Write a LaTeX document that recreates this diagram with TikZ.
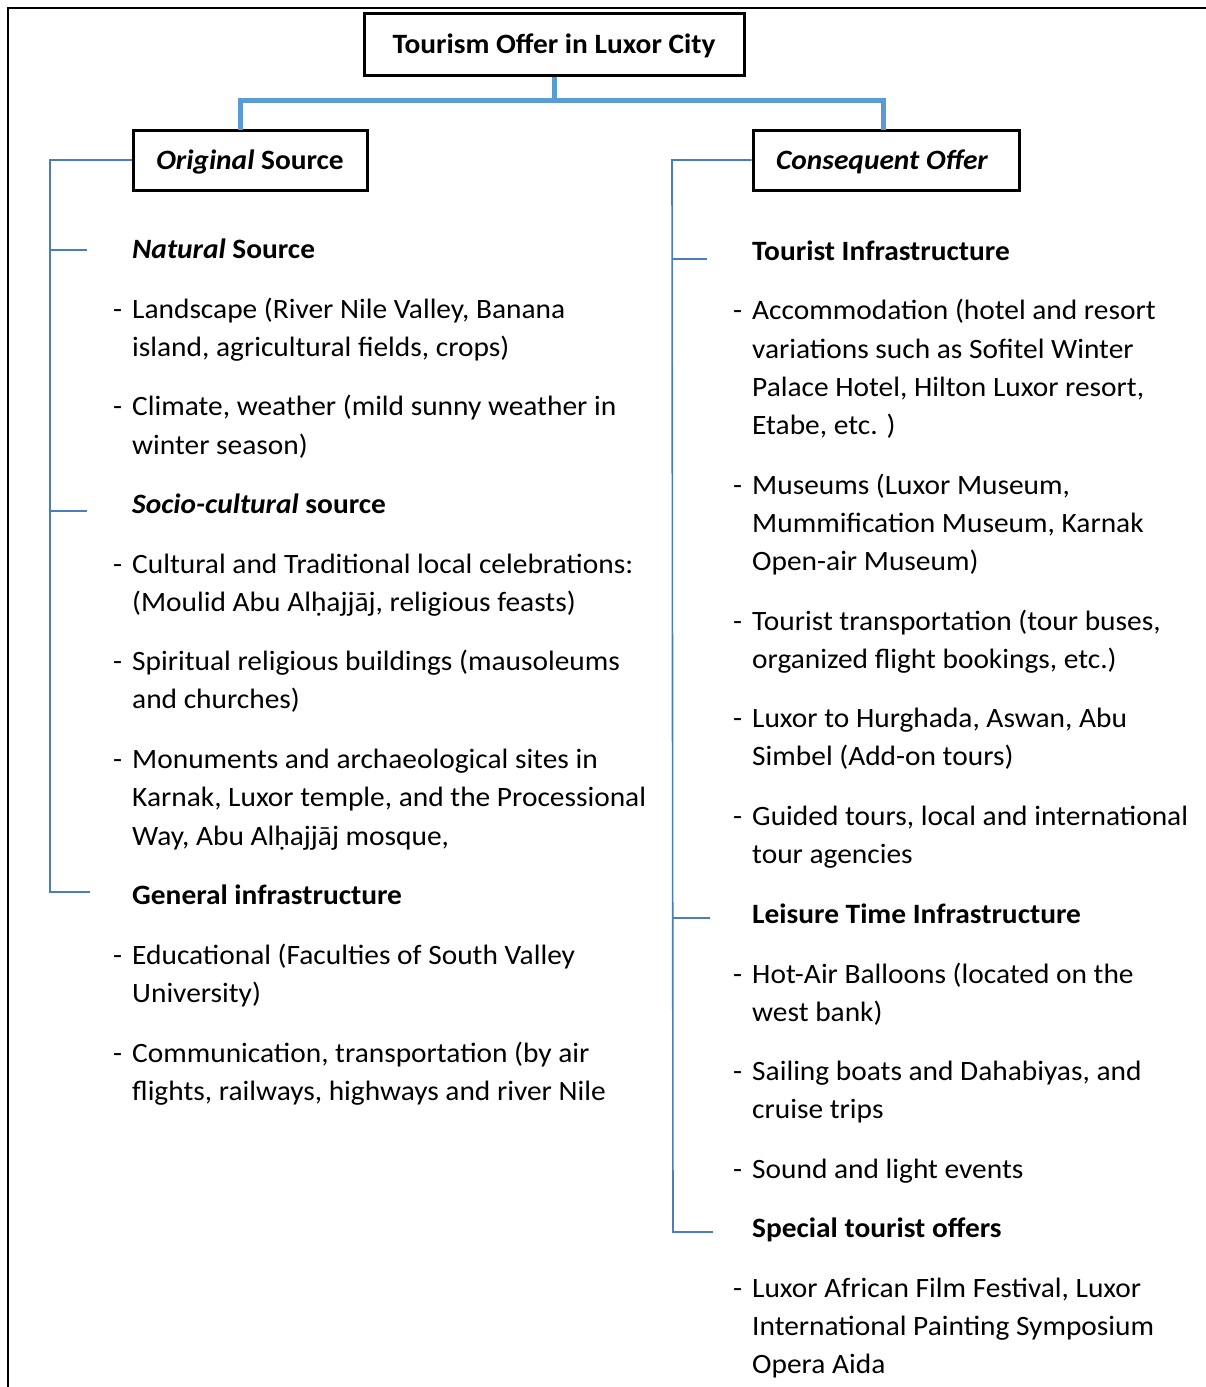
\documentclass[tikz,border=0pt]{standalone}
\usepackage{fontspec}
\setmainfont{Carlito}[FakeStretch=1.05]
\begin{document}
\begin{tikzpicture}[x=1pt,y=-1pt,
  txt/.style={anchor=base west,inner sep=0pt,font=\fontsize{28}{33}\selectfont},
  hbox/.style={draw=black,line width=3pt,inner sep=0pt,text height=25pt,text depth=6pt,font=\fontsize{28}{33}\selectfont\bfseries},
  thickline/.style={draw=thickblue,line width=5pt},
  thinline/.style={draw=thinblue,line width=1.6pt}]
\definecolor{thickblue}{HTML}{5B9BD5}
\definecolor{thinblue}{HTML}{4A7EBB}
\useasboundingbox (0,0) rectangle (1206,1387);
% frame
\draw[line width=2pt] (8,1387) -- (8,8) -- (1206,8);
% boxes
\node[hbox,minimum width=380pt,minimum height=62pt] (top) at (554,44) {Tourism Offer in Luxor City};
\node[hbox,minimum width=234pt,minimum height=60pt] (orig) at (250,160) {\itshape Original\upshape\ Source};
\node[hbox,minimum width=266pt,minimum height=60pt] (cons) at (886,160) {\hspace*{-8pt}\itshape Consequent Offer};
% thick connectors
\coordinate (jl) at (240,100);
\coordinate (jr) at (883,100);
\coordinate (jm) at (554,100);
\coordinate (bl) at (240,130);
\coordinate (br) at (883,130);
\draw[thickline] (top.south) -- (jm);
\draw[thickline] (bl) -- (jl) -- (jr) -- (br);
% thin left
\coordinate (lt) at (50,160);
\coordinate (lb) at (50,892);
\coordinate (lbe) at (90,892);
\coordinate (l1) at (50,250);
\coordinate (l1e) at (87,250);
\coordinate (l2) at (50,511);
\coordinate (l2e) at (87,511);
\draw[thinline] (orig.west) -- (lt) -- (lb) -- (lbe);
\draw[thinline] (l1) -- (l1e);
\draw[thinline] (l2) -- (l2e);
% thin right
\coordinate (rt) at (672,160);
\coordinate (rb) at (673,1232);
\coordinate (rbe) at (713,1232);
\coordinate (r1a) at (672,259);
\coordinate (r1e) at (707,259);
\coordinate (r2a) at (672,918);
\coordinate (r2e) at (710,918);
\draw[thinline] (cons.west) -- (rt) -- (rb) -- (rbe);
\draw[thinline] (r1a) -- (r1e);
\draw[thinline] (r2a) -- (r2e);
% left column
\node[txt] (n1) at (132,258) {\bfseries\itshape Natural\upshape\ Source};
\node[txt] (d1) at (113,318) {-};
\node[txt] (a1) at (132,318) {Landscape (River Nile Valley, Banana};
\node[txt] (a2) at (132,356) {island, agricultural fields, crops)};
\node[txt] (d2) at (113,415) {-};
\node[txt] (b1) at (132,415) {Climate, weather (mild sunny weather in};
\node[txt] (b2) at (132,454) {winter season)};
\node[txt] (n2) at (132,513) {\bfseries\itshape Socio-cultural\upshape\ source};
\node[txt] (d3) at (113,573) {-};
\node[txt] (c1) at (132,573) {Cultural and Traditional local celebrations:};
\node[txt] (c2) at (132,611) {(Moulid Abu Alḥajjāj, religious feasts)};
\node[txt] (d4) at (113,670) {-};
\node[txt] (e1) at (132,670) {Spiritual religious buildings (mausoleums};
\node[txt] (e2) at (132,708) {and churches)};
\node[txt] (d5) at (113,768) {-};
\node[txt] (f1) at (132,768) {Monuments and archaeological sites in};
\node[txt] (f2) at (132,806) {Karnak, Luxor temple, and the Processional};
\node[txt] (f3) at (132,845) {Way, Abu Alḥajjāj mosque,};
\node[txt] (n3) at (132,904) {\bfseries General infrastructure};
\node[txt] (d6) at (113,964) {-};
\node[txt] (g1) at (132,964) {Educational (Faculties of South Valley};
\node[txt] (g2) at (132,1002) {University)};
\node[txt] (d7) at (113,1062) {-};
\node[txt] (h1) at (132,1062) {Communication, transportation (by air};
\node[txt] (h2) at (132,1100) {flights, railways, highways and river Nile};
% right column
\node[txt] (m1) at (752,260) {\bfseries Tourist Infrastructure};
\node[txt] (r1) at (733,319) {-};
\node[txt] (p1) at (752,319) {Accommodation (hotel and resort};
\node[txt] (p2) at (752,358) {variations such as Sofitel Winter};
\node[txt] (p3) at (752,396) {Palace Hotel, Hilton Luxor resort,};
\node[txt] (p4) at (752,434) {Etabe, etc. )};
\node[txt] (r2) at (733,494) {-};
\node[txt] (q1) at (752,494) {Museums (Luxor Museum,};
\node[txt] (q2) at (752,532) {Mummification Museum, Karnak};
\node[txt] (q3) at (752,570) {Open-air Museum)};
\node[txt] (r3) at (733,630) {-};
\node[txt] (s1) at (752,630) {Tourist transportation (tour buses,};
\node[txt] (s2) at (752,668) {organized flight bookings, etc.)};
\node[txt] (r4) at (733,727) {-};
\node[txt] (t1) at (752,727) {Luxor to Hurghada, Aswan, Abu};
\node[txt] (t2) at (752,765) {Simbel (Add-on tours)};
\node[txt] (r5) at (733,825) {-};
\node[txt] (u1) at (752,825) {Guided tours, local and international};
\node[txt] (u2) at (752,863) {tour agencies};
\node[txt] (m2) at (752,923) {\bfseries Leisure Time Infrastructure};
\node[txt] (r6) at (733,983) {-};
\node[txt] (v1) at (752,983) {Hot-Air Balloons (located on the};
\node[txt] (v2) at (752,1021) {west bank)};
\node[txt] (r7) at (733,1080) {-};
\node[txt] (w1) at (752,1080) {Sailing boats and Dahabiyas, and};
\node[txt] (w2) at (752,1118) {cruise trips};
\node[txt] (r8) at (733,1178) {-};
\node[txt] (x1) at (752,1178) {Sound and light events};
\node[txt] (m3) at (752,1237) {\bfseries Special tourist offers};
\node[txt] (r9) at (733,1297) {-};
\node[txt] (y1) at (752,1297) {Luxor African Film Festival, Luxor};
\node[txt] (y2) at (752,1335) {International Painting Symposium};
\node[txt] (y3) at (752,1373) {Opera Aida};
\end{tikzpicture}
\end{document}
